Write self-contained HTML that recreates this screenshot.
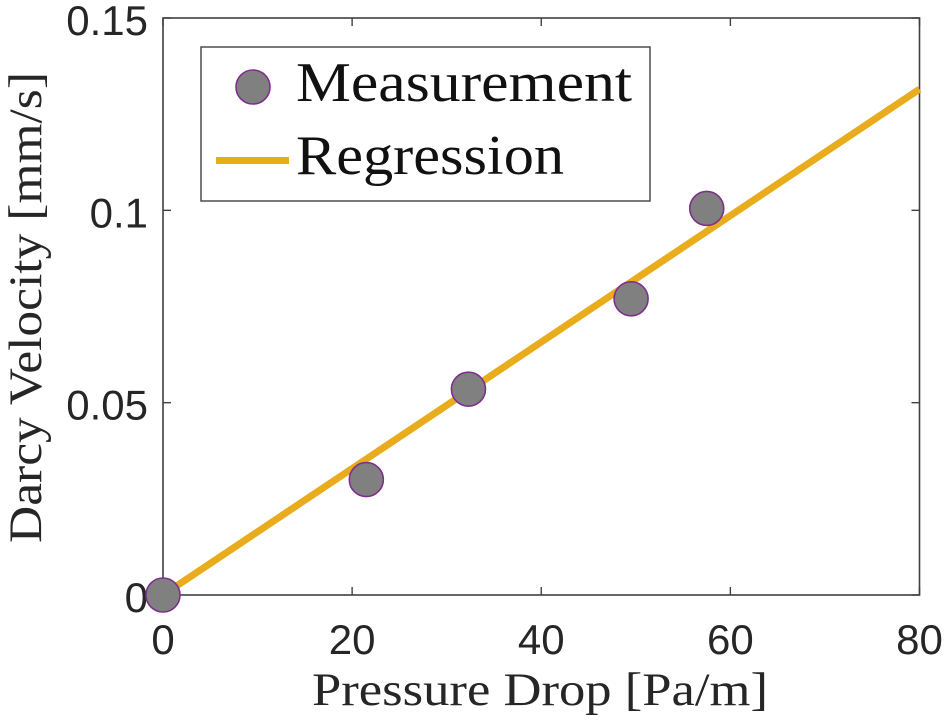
<!DOCTYPE html>
<html lang="en">
<head>
<meta charset="utf-8">
<title>Darcy Velocity vs Pressure Drop</title>
<style>
html,body{margin:0;padding:0;background:#fff;width:945px;height:722px;overflow:hidden}
svg{display:block}
.tick{font-family:"Liberation Sans",sans-serif;font-size:42px;fill:#262626}
.serif{font-family:"Liberation Serif",serif;fill:#262626}
</style>
</head>
<body>
<svg id="chart" width="945" height="722" viewBox="0 0 945 722" xmlns="http://www.w3.org/2000/svg"></svg>
<script>
const xTicks = [0, 20, 40, 60, 80];
const yTicks = [0, 0.05, 0.1, 0.15];
const xTickLabels = ['0', '20', '40', '60', '80'];
const yTickLabels = ['0', '0.05', '0.1', '0.15'];
const measurementX = [0, 21.5, 32.3, 49.5, 57.5];
const measurementY = [0, 0.03, 0.0535, 0.077, 0.1005];
const regressionX = [0, 80];
const regressionY = [0, 0.1315];

const NS = 'http://www.w3.org/2000/svg';
const svg = document.getElementById('chart');
const L = 163, R = 919.5, T = 18, B = 595;
const sx = v => L + (v - 0) / 80 * (R - L);
const sy = v => B - (v - 0) / 0.15 * (B - T);

function mk(tag, attrs, parent) {
  const e = document.createElementNS(NS, tag);
  for (const k in attrs) e.setAttribute(k, attrs[k]);
  (parent || svg).appendChild(e);
  return e;
}

// axes box
const box = mk('rect', {x: L, y: T, width: R - L, height: B - T, fill: '#fff', stroke: '#404040', 'stroke-width': 1.6});



// x ticks
xTicks.forEach((v, i) => {
  const x = sx(v);
  const t1 = mk('line', {x1: x, x2: x, y1: B, y2: B - 8, stroke: '#404040', 'stroke-width': 1.4});
  
  
  const t2 = mk('line', {x1: x, x2: x, y1: T, y2: T + 8, stroke: '#404040', 'stroke-width': 1.4});
  
  
  const lab = mk('text', {x: x, y: 654, 'text-anchor': 'middle', class: 'tick'});
  
  
  lab.textContent = xTickLabels[i];
});

// y ticks
yTicks.forEach((v, i) => {
  const y = sy(v);
  const t1 = mk('line', {x1: L, x2: L + 8, y1: y, y2: y, stroke: '#404040', 'stroke-width': 1.4});
  
  
  const t2 = mk('line', {x1: R, x2: R - 8, y1: y, y2: y, stroke: '#404040', 'stroke-width': 1.4});
  
  
  const lab = mk('text', {x: 148, y: y + 17, 'text-anchor': 'end', class: 'tick'});
  
  
  lab.textContent = yTickLabels[i];
});

// regression line
const reg = mk('line', {x1: sx(regressionX[0]), y1: sy(regressionY[0]), x2: sx(regressionX[1]), y2: sy(regressionY[1]), stroke: '#e8ac1c', 'stroke-width': 7});



// measurement points
measurementX.forEach((v, i) => {
  const c = mk('circle', {cx: sx(v), cy: sy(measurementY[i]), r: 17, fill: '#808080', stroke: '#7e2f8e', 'stroke-width': 1.6});
  
  
});

// legend
const lg = mk('g', {});


const lgBox = mk('rect', {x: 201, y: 47, width: 449, height: 154, fill: '#fff', stroke: '#404040', 'stroke-width': 1.4}, lg);


const lgM = mk('circle', {cx: 253, cy: 87, r: 17, fill: '#808080', stroke: '#7e2f8e', 'stroke-width': 1.6}, lg);


const lgT1 = mk('text', {x: 296, y: 101, class: 'serif', 'font-size': 56, textLength: 336, lengthAdjust: 'spacingAndGlyphs', style: 'fill:#111'}, lg);


lgT1.textContent = 'Measurement';
const lgL = mk('line', {x1: 216, x2: 289, y1: 160.5, y2: 160.5, stroke: '#e8ac1c', 'stroke-width': 7}, lg);


const lgT2 = mk('text', {x: 296, y: 174, class: 'serif', 'font-size': 56, textLength: 268, lengthAdjust: 'spacingAndGlyphs', style: 'fill:#111'}, lg);


lgT2.textContent = 'Regression';

// axis titles
const xt = mk('text', {x: 312, y: 705, class: 'serif', 'font-size': 47, textLength: 456, lengthAdjust: 'spacingAndGlyphs'});


xt.textContent = 'Pressure Drop [Pa/m]';
const yt = mk('text', {x: 0, y: 0, class: 'serif', 'font-size': 47, textLength: 471, lengthAdjust: 'spacingAndGlyphs', transform: 'translate(41,543) rotate(-90)'});


yt.textContent = 'Darcy Velocity [mm/s]';
</script>
</body>
</html>
